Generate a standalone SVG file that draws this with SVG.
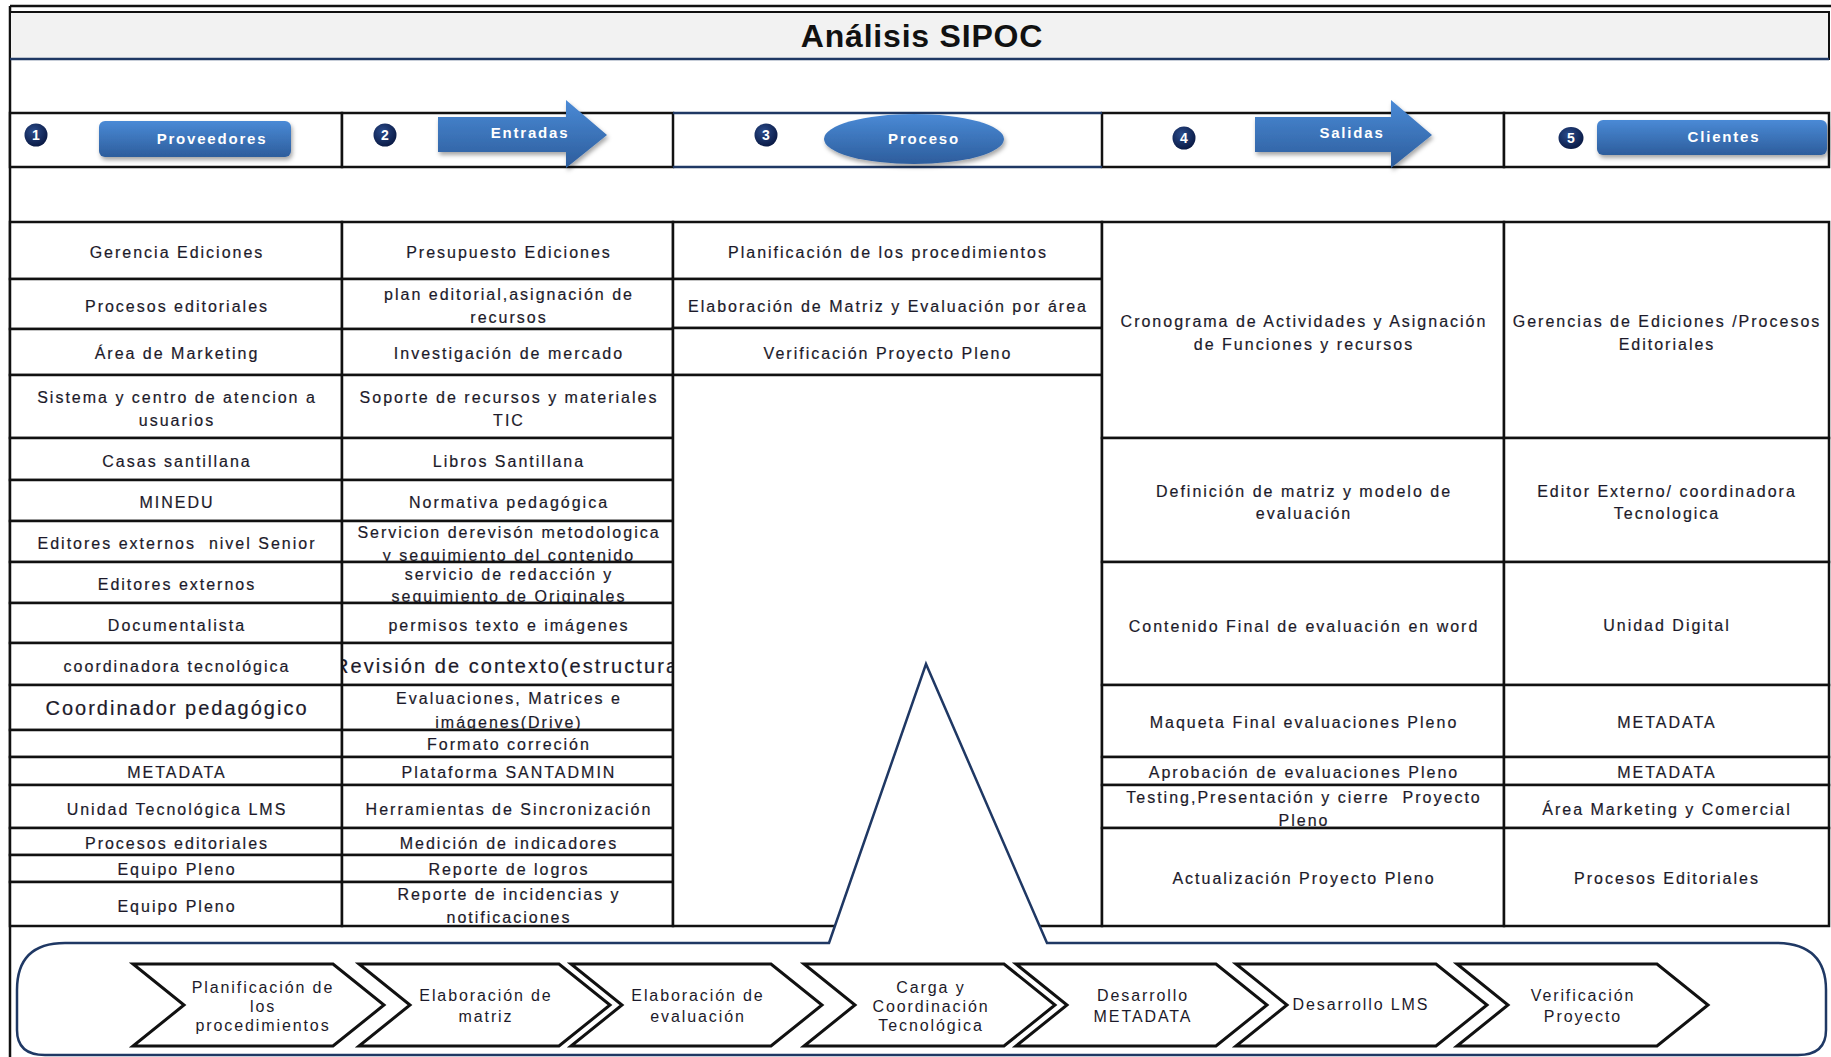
<svg xmlns="http://www.w3.org/2000/svg" width="1831" height="1057" viewBox="0 0 1831 1057">
  <defs>
    <style>
      .frame { fill: none; stroke: #111; stroke-width: 2.5; }
      .cell { fill: #fff; stroke: #111; stroke-width: 2.5; }
      .navy { fill: none; stroke: #1f3864; stroke-width: 2.5; }
      .t { font-family: "Liberation Sans", Arial, sans-serif; font-size: 16px; letter-spacing: 2px; fill: #1c1a2a; text-anchor: middle; stroke: #1c1a2a; stroke-width: 0.2px; }
      .tb { font-size: 20px; }
      .title { font-family: "Liberation Sans", Arial, sans-serif; font-size: 32px; font-weight: bold; letter-spacing: 0.8px; fill: #111; text-anchor: middle; }
      .btn { font-family: "Liberation Sans", Arial, sans-serif; font-size: 15px; font-weight: bold; letter-spacing: 1.8px; fill: #fff; text-anchor: middle; }
      .num { font-family: "Liberation Sans", Arial, sans-serif; font-size: 14px; font-weight: bold; fill: #fff; text-anchor: middle; }
      .chev { fill: #fff; stroke: #111; stroke-width: 3; stroke-linejoin: miter; }
      .ct { font-family: "Liberation Sans", Arial, sans-serif; font-size: 16px; letter-spacing: 1.9px; fill: #1c1a2a; text-anchor: middle; }
    </style>
    <linearGradient id="blue" x1="0" y1="0" x2="0" y2="1">
      <stop offset="0" stop-color="#4a8ad6"/>
      <stop offset="1" stop-color="#2d5d9c"/>
    </linearGradient>
    <radialGradient id="dot" cx="0.4" cy="0.35" r="0.7">
      <stop offset="0" stop-color="#2b4c8c"/>
      <stop offset="1" stop-color="#081741"/>
    </radialGradient>
    <filter id="shadow" x="-20%" y="-30%" width="140%" height="170%">
      <feDropShadow dx="1.5" dy="3" stdDeviation="2" flood-color="#000" flood-opacity="0.35"/>
    </filter>
    <clipPath id="clip-e7"><rect x="343" y="522" width="329" height="39"/></clipPath>
    <clipPath id="clip-e8"><rect x="343" y="563" width="329" height="39"/></clipPath>
    <clipPath id="clip-e10"><rect x="343" y="644" width="329" height="40"/></clipPath>
    <clipPath id="clip-e11"><rect x="343" y="686" width="329" height="43"/></clipPath>
    <clipPath id="clip-o6"><rect x="1103" y="786" width="400" height="41"/></clipPath>
  </defs>

  <rect x="0" y="0" width="1831" height="1057" fill="#fff"/>

  <!-- outer frame: top rule and left edge -->
  <g id="frame">
    <line class="frame" x1="10" y1="6" x2="1831" y2="6"/>
    <line class="frame" x1="10" y1="6" x2="10" y2="1057"/>
  </g>

  <!-- title bar -->
  <g id="title">
    <rect x="10" y="12" width="1819" height="47" fill="#f2f2f2" stroke="#111" stroke-width="2"/>
    <line class="navy" x1="10" y1="59" x2="1829" y2="59"/>
    <text class="title" x="922" y="47">Análisis SIPOC</text>
  </g>

  <!-- header row -->
  <g id="header">
    <rect class="cell" x="10" y="113" width="332" height="54"/>
    <rect class="cell" x="342" y="113" width="331" height="54"/>
    <rect class="cell" x="1102" y="113" width="402" height="54"/>
    <rect class="cell" x="1504" y="113" width="325" height="54"/>
    <line class="navy" x1="673" y1="113" x2="1102" y2="113"/>
    <line class="navy" x1="673" y1="167" x2="1102" y2="167"/>

    <g id="hdr-proveedores">
      <circle cx="36" cy="135" r="11.5" fill="url(#dot)"/>
      <text class="num" x="36" y="140">1</text>
      <rect x="99" y="121" width="192" height="36" rx="6" fill="url(#blue)" filter="url(#shadow)"/>
      <text class="btn" x="212" y="144">Proveedores</text>
    </g>
    <g id="hdr-entradas">
      <circle cx="385" cy="135" r="11.5" fill="url(#dot)"/>
      <text class="num" x="385" y="140">2</text>
      <polygon points="438,117 566,117 566,100 607,135 566,168 566,152 438,152" fill="url(#blue)" filter="url(#shadow)"/>
      <text class="btn" x="530" y="138">Entradas</text>
    </g>
    <g id="hdr-proceso">
      <circle cx="766" cy="135" r="11.5" fill="url(#dot)"/>
      <text class="num" x="766" y="140">3</text>
      <ellipse cx="914" cy="139" rx="90" ry="25" fill="url(#blue)" filter="url(#shadow)"/>
      <text class="btn" x="924" y="144">Proceso</text>
    </g>
    <g id="hdr-salidas">
      <circle cx="1184" cy="138" r="11.5" fill="url(#dot)"/>
      <text class="num" x="1184" y="143">4</text>
      <polygon points="1255,117 1391,117 1391,100 1432,135 1391,168 1391,152 1255,152" fill="url(#blue)" filter="url(#shadow)"/>
      <text class="btn" x="1352" y="138">Salidas</text>
    </g>
    <g id="hdr-clientes">
      <ellipse cx="1571" cy="138" rx="12.5" ry="11" fill="url(#dot)"/>
      <text class="num" x="1571" y="143">5</text>
      <rect x="1597" y="120" width="230" height="35" rx="6" fill="url(#blue)" filter="url(#shadow)"/>
      <text class="btn" x="1724" y="142">Clientes</text>
    </g>
  </g>

  <!-- suppliers column -->
  <g id="proveedores">
    <g id="s1"><rect class="cell" x="10" y="222" width="332" height="57"/><text class="t" x="177" y="258">Gerencia Ediciones</text></g>
    <g id="s2"><rect class="cell" x="10" y="279" width="332" height="50"/><text class="t" x="177" y="312">Procesos editoriales</text></g>
    <g id="s3"><rect class="cell" x="10" y="329" width="332" height="46"/><text class="t" x="177" y="359">Área de Marketing</text></g>
    <g id="s4"><rect class="cell" x="10" y="375" width="332" height="63"/><text class="t" x="177" y="403">Sistema y centro de atencion a</text><text class="t" x="177" y="426">usuarios</text></g>
    <g id="s5"><rect class="cell" x="10" y="438" width="332" height="42"/><text class="t" x="177" y="467">Casas santillana</text></g>
    <g id="s6"><rect class="cell" x="10" y="480" width="332" height="41"/><text class="t" x="177" y="508">MINEDU</text></g>
    <g id="s7"><rect class="cell" x="10" y="521" width="332" height="41"/><text class="t" x="177" y="549" xml:space="preserve">Editores externos  nivel Senior</text></g>
    <g id="s8"><rect class="cell" x="10" y="562" width="332" height="41"/><text class="t" x="177" y="590">Editores externos</text></g>
    <g id="s9"><rect class="cell" x="10" y="603" width="332" height="40"/><text class="t" x="177" y="631">Documentalista</text></g>
    <g id="s10"><rect class="cell" x="10" y="643" width="332" height="42"/><text class="t" x="177" y="672">coordinadora tecnológica</text></g>
    <g id="s11"><rect class="cell" x="10" y="685" width="332" height="45"/><text class="t tb" x="177" y="715">Coordinador pedagógico</text></g>
    <g id="s12"><rect class="cell" x="10" y="730" width="332" height="27"/></g>
    <g id="s13"><rect class="cell" x="10" y="757" width="332" height="28"/><text class="t" x="177" y="778">METADATA</text></g>
    <g id="s14"><rect class="cell" x="10" y="785" width="332" height="43"/><text class="t" x="177" y="815">Unidad Tecnológica LMS</text></g>
    <g id="s15"><rect class="cell" x="10" y="828" width="332" height="27"/><text class="t" x="177" y="849">Procesos editoriales</text></g>
    <g id="s16"><rect class="cell" x="10" y="855" width="332" height="27"/><text class="t" x="177" y="875">Equipo Pleno</text></g>
    <g id="s17"><rect class="cell" x="10" y="882" width="332" height="44"/><text class="t" x="177" y="912">Equipo Pleno</text></g>
  </g>

  <!-- inputs column -->
  <g id="entradas">
    <g id="e1"><rect class="cell" x="342" y="222" width="331" height="57"/><text class="t" x="509" y="258">Presupuesto Ediciones</text></g>
    <g id="e2"><rect class="cell" x="342" y="279" width="331" height="50"/><text class="t" x="509" y="300">plan editorial,asignación de</text><text class="t" x="509" y="323">recursos</text></g>
    <g id="e3"><rect class="cell" x="342" y="329" width="331" height="46"/><text class="t" x="509" y="359">Investigación de mercado</text></g>
    <g id="e4"><rect class="cell" x="342" y="375" width="331" height="63"/><text class="t" x="509" y="403">Soporte de recursos y materiales</text><text class="t" x="509" y="426">TIC</text></g>
    <g id="e5"><rect class="cell" x="342" y="438" width="331" height="42"/><text class="t" x="509" y="467">Libros Santillana</text></g>
    <g id="e6"><rect class="cell" x="342" y="480" width="331" height="41"/><text class="t" x="509" y="508">Normativa pedagógica</text></g>
    <g id="e7"><rect class="cell" x="342" y="521" width="331" height="41"/><g clip-path="url(#clip-e7)"><text class="t" x="509" y="538">Servicion derevisón metodologica</text><text class="t" x="509" y="561">y seguimiento del contenido</text></g></g>
    <g id="e8"><rect class="cell" x="342" y="562" width="331" height="41"/><g clip-path="url(#clip-e8)"><text class="t" x="509" y="580">servicio de redacción y</text><text class="t" x="509" y="602">seguimiento de Originales</text></g></g>
    <g id="e9"><rect class="cell" x="342" y="603" width="331" height="40"/><text class="t" x="509" y="631">permisos texto e imágenes</text></g>
    <g id="e10"><rect class="cell" x="342" y="643" width="331" height="42"/><g clip-path="url(#clip-e10)"><text class="t tb" x="334" y="673" style="text-anchor:start" textLength="345" lengthAdjust="spacing">Revisión de contexto(estructura</text></g></g>
    <g id="e11"><rect class="cell" x="342" y="685" width="331" height="45"/><g clip-path="url(#clip-e11)"><text class="t" x="509" y="704">Evaluaciones, Matrices e</text><text class="t" x="509" y="728">imágenes(Drive)</text></g></g>
    <g id="e12"><rect class="cell" x="342" y="730" width="331" height="27"/><text class="t" x="509" y="750">Formato correción</text></g>
    <g id="e13"><rect class="cell" x="342" y="757" width="331" height="28"/><text class="t" x="509" y="778">Plataforma SANTADMIN</text></g>
    <g id="e14"><rect class="cell" x="342" y="785" width="331" height="43"/><text class="t" x="509" y="815">Herramientas de Sincronización</text></g>
    <g id="e15"><rect class="cell" x="342" y="828" width="331" height="27"/><text class="t" x="509" y="849">Medición de indicadores</text></g>
    <g id="e16"><rect class="cell" x="342" y="855" width="331" height="27"/><text class="t" x="509" y="875">Reporte de logros</text></g>
    <g id="e17"><rect class="cell" x="342" y="882" width="331" height="44"/><text class="t" x="509" y="900">Reporte de incidencias y</text><text class="t" x="509" y="923">notificaciones</text></g>
  </g>

  <!-- process column -->
  <g id="proceso">
    <g id="p1"><rect class="cell" x="673" y="222" width="429" height="57"/><text class="t" x="888" y="258">Planificación de los procedimientos</text></g>
    <g id="p2"><rect class="cell" x="673" y="279" width="429" height="49"/><text class="t" x="888" y="312">Elaboración de Matriz y Evaluación por área</text></g>
    <g id="p3"><rect class="cell" x="673" y="328" width="429" height="47"/><text class="t" x="888" y="359">Verificación Proyecto Pleno</text></g>
    <g id="p4"><rect class="cell" x="673" y="375" width="429" height="551"/></g>
  </g>

  <!-- outputs column -->
  <g id="salidas">
    <g id="o1"><rect class="cell" x="1102" y="222" width="402" height="216"/><text class="t" x="1304" y="327">Cronograma de Actividades y Asignación</text><text class="t" x="1304" y="350">de Funciones y recursos</text></g>
    <g id="o2"><rect class="cell" x="1102" y="438" width="402" height="124"/><text class="t" x="1304" y="497">Definición de matriz y modelo de</text><text class="t" x="1304" y="519">evaluación</text></g>
    <g id="o3"><rect class="cell" x="1102" y="562" width="402" height="123"/><text class="t" x="1304" y="632">Contenido Final de evaluación en word</text></g>
    <g id="o4"><rect class="cell" x="1102" y="685" width="402" height="72"/><text class="t" x="1304" y="728">Maqueta Final evaluaciones Pleno</text></g>
    <g id="o5"><rect class="cell" x="1102" y="757" width="402" height="28"/><text class="t" x="1304" y="778">Aprobación de evaluaciones Pleno</text></g>
    <g id="o6"><rect class="cell" x="1102" y="785" width="402" height="43"/><g clip-path="url(#clip-o6)"><text class="t" x="1304" y="803" xml:space="preserve">Testing,Presentación y cierre  Proyecto</text><text class="t" x="1304" y="826">Pleno</text></g></g>
    <g id="o7"><rect class="cell" x="1102" y="828" width="402" height="98"/><text class="t" x="1304" y="884">Actualización Proyecto Pleno</text></g>
  </g>

  <!-- customers column -->
  <g id="clientes">
    <g id="c1"><rect class="cell" x="1504" y="222" width="325" height="216"/><text class="t" x="1667" y="327">Gerencias de Ediciones /Procesos</text><text class="t" x="1667" y="350">Editoriales</text></g>
    <g id="c2"><rect class="cell" x="1504" y="438" width="325" height="124"/><text class="t" x="1667" y="497">Editor Externo/ coordinadora</text><text class="t" x="1667" y="519">Tecnologica</text></g>
    <g id="c3"><rect class="cell" x="1504" y="562" width="325" height="123"/><text class="t" x="1667" y="631">Unidad Digital</text></g>
    <g id="c4"><rect class="cell" x="1504" y="685" width="325" height="72"/><text class="t" x="1667" y="728">METADATA</text></g>
    <g id="c5"><rect class="cell" x="1504" y="757" width="325" height="28"/><text class="t" x="1667" y="778">METADATA</text></g>
    <g id="c6"><rect class="cell" x="1504" y="785" width="325" height="43"/><text class="t" x="1667" y="815">Área Marketing y Comercial</text></g>
    <g id="c7"><rect class="cell" x="1504" y="828" width="325" height="98"/><text class="t" x="1667" y="884">Procesos Editoriales</text></g>
  </g>

  <!-- callout linking the process column to the process flow -->
  <g id="connectors">
    <path d="M 829 943 L 926 664 L 1047 943 L 1775 943 Q 1826 943 1826 990 L 1826 1030 Q 1826 1055 1798 1055 L 45 1055 Q 17 1055 17 1030 L 17 990 Q 17 943 65 943 Z" fill="#fff" stroke="#1f3864" stroke-width="2.5" stroke-linejoin="miter"/>
  </g>

  <!-- process flow chevrons -->
  <g id="flow">
    <g id="step1"><polygon class="chev" points="133,964 333,964 384,1005 333,1046 133,1046 184,1005"/><text class="ct" x="263" y="993">Planificación de</text><text class="ct" x="263" y="1012">los</text><text class="ct" x="263" y="1031">procedimientos</text></g>
    <g id="step2"><polygon class="chev" points="359,964 559,964 610,1005 559,1046 359,1046 410,1005"/><text class="ct" x="486" y="1001">Elaboración de</text><text class="ct" x="486" y="1022">matriz</text></g>
    <g id="step3"><polygon class="chev" points="571,964 771,964 822,1005 771,1046 571,1046 622,1005"/><text class="ct" x="698" y="1001">Elaboración de</text><text class="ct" x="698" y="1022">evaluación</text></g>
    <g id="step4"><polygon class="chev" points="804,964 1004,964 1055,1005 1004,1046 804,1046 855,1005"/><text class="ct" x="931" y="993">Carga y</text><text class="ct" x="931" y="1012">Coordinación</text><text class="ct" x="931" y="1031">Tecnológica</text></g>
    <g id="step5"><polygon class="chev" points="1016,964 1216,964 1267,1005 1216,1046 1016,1046 1067,1005"/><text class="ct" x="1143" y="1001">Desarrollo</text><text class="ct" x="1143" y="1022">METADATA</text></g>
    <g id="step6"><polygon class="chev" points="1236,964 1436,964 1487,1005 1436,1046 1236,1046 1287,1005"/><text class="ct" x="1361" y="1010">Desarrollo LMS</text></g>
    <g id="step7"><polygon class="chev" points="1457,964 1657,964 1708,1005 1657,1046 1457,1046 1508,1005"/><text class="ct" x="1583" y="1001">Verificación</text><text class="ct" x="1583" y="1022">Proyecto</text></g>
  </g>
</svg>
